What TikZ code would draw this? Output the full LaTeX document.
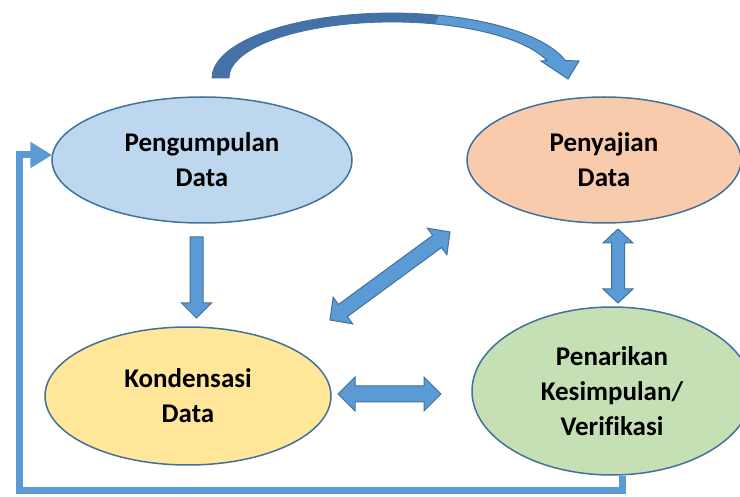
\documentclass[tikz,border=0pt]{standalone}
\usepackage{fontspec}
\setmainfont{Carlito}[Ligatures=NoCommon]
\usetikzlibrary{calc,arrows.meta,shapes.geometric}
\definecolor{edgeblue}{HTML}{41719C}
\definecolor{arrowblue}{HTML}{5B9BD5}
\definecolor{curvedark}{HTML}{4472A8}
\definecolor{fillblue}{HTML}{BDD7EE}
\definecolor{fillpeach}{HTML}{F8CBAD}
\definecolor{fillyellow}{HTML}{FFE699}
\definecolor{fillgreen}{HTML}{C5E0B4}
\tikzset{
  stage/.style={ellipse, draw=edgeblue, line width=1.5pt, inner sep=0pt,
    align=center, font=\fontsize{27}{35}\selectfont\bfseries},
  blockarrow/.style={fill=arrowblue, draw=edgeblue, line width=1pt, line join=miter},
  fbline/.style={draw=arrowblue, line width=7pt, -{Triangle[length=22pt,width=25pt]}},
}
\newcommand{\dblarr}[5]{%
  \filldraw[blockarrow] (#1)
  -- ($(#1)!#3!(#2)!#4!90:(#2)$)
  -- ($(#1)!#3!(#2)!#5!90:(#2)$)
  -- ($(#2)!#3!(#1)!#5!-90:(#1)$)
  -- ($(#2)!#3!(#1)!#4!-90:(#1)$)
  -- (#2)
  -- ($(#2)!#3!(#1)!#4!90:(#1)$)
  -- ($(#2)!#3!(#1)!#5!90:(#1)$)
  -- ($(#1)!#3!(#2)!#5!-90:(#2)$)
  -- ($(#1)!#3!(#2)!#4!-90:(#2)$)
  -- cycle;}
\newcommand{\sglarr}[5]{%
  \filldraw[blockarrow] ($(#1)!#5!90:(#2)$)
  -- ($(#2)!#3!(#1)!#5!-90:(#1)$)
  -- ($(#2)!#3!(#1)!#4!-90:(#1)$)
  -- (#2)
  -- ($(#2)!#3!(#1)!#4!90:(#1)$)
  -- ($(#2)!#3!(#1)!#5!90:(#1)$)
  -- ($(#1)!#5!-90:(#2)$)
  -- cycle;}
\begin{document}
\begin{tikzpicture}[x=1pt,y=-1pt]
\useasboundingbox (0,0) rectangle (740,497);
\clip (0,0) rectangle (740,497);
% stages
\node[stage, fill=fillblue, minimum width=300pt, minimum height=126pt] (peng) at (202,160) {Pengumpulan\\Data};
\node[stage, fill=fillpeach, minimum width=274pt, minimum height=126pt] (pen) at (604,160) {Penyajian\\Data};
\node[stage, fill=fillyellow, minimum width=286pt, minimum height=138pt] (kon) at (188,396) {Kondensasi\\Data};
\node[stage, fill=fillgreen, minimum width=280pt, minimum height=168pt] (tar) at (612,391) {Penarikan\\Kesimpulan/\\Verifikasi};
% curved arrow from Pengumpulan to Penyajian
\filldraw[fill=curvedark, draw=edgeblue, line width=0.8pt] (212,78)
  arc[start angle=180, end angle=75, x radius=180pt, y radius=65pt]
  -- (434.2,23.9)
  arc[start angle=75, end angle=180, x radius=163pt, y radius=56pt] -- cycle;
\filldraw[blockarrow] (438.6,15.2)
  arc[start angle=75, end angle=15.6, x radius=180pt, y radius=65pt]
  -- (579,61) coordinate (ctip1) -- (568,79) coordinate (ctip) -- (541,61) -- (546.9,60.5)
  arc[start angle=18.2, end angle=75, x radius=163pt, y radius=56pt] -- cycle;
% straight block arrows
\coordinate (d1) at (196.5,237);
\coordinate (d2) at (196.5,318);
\sglarr{d1}{d2}{15pt}{15pt}{6.5pt}
\coordinate (g1) at (330,320);
\coordinate (g2) at (450,232);
\dblarr{g1}{g2}{16pt}{16.5pt}{7.5pt}
\coordinate (h1) at (338,394);
\coordinate (h2) at (441,394);
\dblarr{h1}{h2}{17pt}{17pt}{8pt}
\coordinate (v1) at (618,229);
\coordinate (v2) at (618,303);
\dblarr{v1}{v2}{14pt}{15pt}{6.5pt}
% feedback line
\coordinate (fbc) at (19,490);
\coordinate (fbend) at ($(peng.west)+(1,-5)$);
\draw[fbline] (tar.-83) |- (fbc) |- (fbend);
\end{tikzpicture}
\end{document}
